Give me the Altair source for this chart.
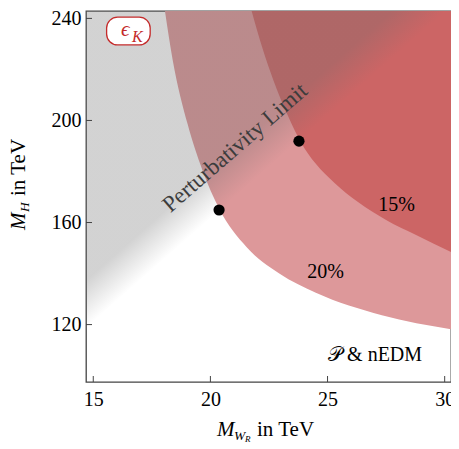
import altair as alt
import pandas as pd

# axis ranges and ticks
x_domain = [14.69, 30.27]
y_domain = [97.5, 242.9]
x_ticks = [15, 20, 25, 30]
y_ticks = [120, 160, 200, 240]

# 20% contour (outer boundary of light region)
outer_x = [18.06, 18.39, 19.03, 19.66, 20.37, 21.55, 22.94, 24.5, 27.32, 30.27]
outer_y = [242.9, 223.7, 198.5, 180.5, 165.5, 150.3, 140.0, 132.5, 123.7, 118.2]
# 15% contour (boundary of dark region)
inner_x = [21.76, 22.2, 22.7, 23.3, 23.86, 24.5, 25.3, 26.3, 27.5, 28.8, 30.27]
inner_y = [242.9, 229.0, 215.5, 202.0, 191.5, 183.0, 175.5, 168.0, 161.0, 155.0, 148.4]
# perturbativity limit line
perturb_x = [14.69, 30.06]
perturb_y = [118.7, 242.9]
# benchmark points
bench_x = [20.37, 23.78]
bench_y = [164.9, 191.9]
# region labels
label_text = ["15%", "20%", "𝒫 & nEDM"]
label_x = [27.95, 24.92, 27.03]
label_y = [166.8, 140.5, 108.0]
pert_label = "Perturbativity Limit"
pert_label_x = [21.05]
pert_label_y = [189.3]
# epsilon_K box
eps_box_x = [15.57, 17.43]
eps_box_y = [240.5, 229.6]

SERIF = "Liberation Serif"
TOP = y_domain[1]

xs = alt.Scale(domain=x_domain, nice=False, zero=False)
ys = alt.Scale(domain=y_domain, nice=False, zero=False)

x_axis = alt.Axis(values=x_ticks, format="d", tickSize=0, labelPadding=7, domain=False,
                  grid=False, title=None, labelFont=SERIF, labelFontSize=20, labelColor="black")
y_axis = alt.Axis(values=y_ticks, format="d", tickSize=0, labelPadding=5, domain=False,
                  grid=False, title=None, labelFont=SERIF, labelFontSize=20, labelColor="black")

outer_df = pd.DataFrame({"x": outer_x, "y": outer_y, "top": TOP})
inner_df = pd.DataFrame({"x": inner_x, "y": inner_y, "top": TOP})
pert_df = pd.DataFrame({"x": perturb_x, "y": perturb_y, "top": TOP})
bench_df = pd.DataFrame({"x": bench_x, "y": bench_y})
label_df = pd.DataFrame({"x": label_x, "y": label_y, "t": label_text})
pert_lab_df = pd.DataFrame({"x": pert_label_x, "y": pert_label_y, "t": [pert_label]})
box_df = pd.DataFrame({"x": [eps_box_x[0]], "x2": [eps_box_x[1]], "y": [eps_box_y[0]], "y2": [eps_box_y[1]]})
xt_df = pd.DataFrame({"v": x_ticks})
yt_df = pd.DataFrame({"v": y_ticks})

light = alt.Chart(outer_df).mark_area(interpolate="monotone", color="#dd989a", clip=True).encode(
    x=alt.X("x:Q", scale=xs, axis=x_axis),
    y=alt.Y("y:Q", scale=ys, axis=y_axis),
    y2="top:Q",
)
dark = alt.Chart(inner_df).mark_area(interpolate="monotone", color="#cc6565", clip=True).encode(
    x=alt.X("x:Q", scale=xs), y=alt.Y("y:Q", scale=ys), y2="top:Q"
)
grad = alt.Gradient(
    gradient="linear",
    stops=[
        alt.GradientStop(color="rgba(108,108,108,0.3)", offset=0),
        alt.GradientStop(color="rgba(108,108,108,0.3)", offset=0.85),
        alt.GradientStop(color="rgba(108,108,108,0)", offset=1),
    ],
    x1=0, y1=0, x2=0.5, y2=0.5,
)
gray = alt.Chart(pert_df).mark_area(color=grad, clip=True).encode(
    x=alt.X("x:Q", scale=xs), y=alt.Y("y:Q", scale=ys), y2="top:Q"
)
labels = alt.Chart(label_df).mark_text(font=SERIF, fontSize=20, color="black").encode(
    x=alt.X("x:Q", scale=xs), y=alt.Y("y:Q", scale=ys), text="t:N"
)
pert_lab = alt.Chart(pert_lab_df).mark_text(font=SERIF, fontSize=23, color="#3c3c3c", angle=319).encode(
    x=alt.X("x:Q", scale=xs), y=alt.Y("y:Q", scale=ys), text="t:N"
)
dots = alt.Chart(bench_df).mark_circle(size=125, color="black", opacity=1).encode(
    x=alt.X("x:Q", scale=xs), y=alt.Y("y:Q", scale=ys)
)
box = alt.Chart(box_df).mark_rect(fill="white", stroke="#c42b2b", strokeWidth=1.3, cornerRadius=11).encode(
    x=alt.X("x:Q", scale=xs), x2="x2:Q", y=alt.Y("y:Q", scale=ys), y2="y2:Q"
)
one = alt.Data(values=[{}])
eps = alt.Chart(one).mark_text(text="ϵ", font=SERIF, fontSize=21, fontStyle="italic", color="#c42b2b",
                               align="left", baseline="alphabetic").encode(x=alt.value(35), y=alt.value(25))
epsK = alt.Chart(one).mark_text(text="K", font=SERIF, fontSize=16, fontStyle="italic", color="#c42b2b",
                                align="left", baseline="alphabetic").encode(x=alt.value(46), y=alt.value(31))

xticks = alt.Chart(xt_df).mark_rule(color="#444", strokeWidth=1).encode(
    x=alt.X("v:Q", scale=xs), y=alt.value(371), y2=alt.value(365)
)
yticks = alt.Chart(yt_df).mark_rule(color="#444", strokeWidth=1).encode(
    y=alt.Y("v:Q", scale=ys), x=alt.value(0), x2=alt.value(6)
)

def t(txt, x, y, size=21, italic=False, angle=0):
    kw = dict(text=txt, font=SERIF, fontSize=size, color="black", align="left", baseline="alphabetic")
    if italic:
        kw["fontStyle"] = "italic"
    if angle:
        kw["angle"] = angle
    return alt.Chart(one).mark_text(**kw).encode(x=alt.value(x), y=alt.value(y))

xt1 = t("M", 131, 425, 21, True)
xt2 = t("W", 148, 429, 13.5, True)
xt3 = t("R", 159, 431, 9, True)
xt4 = t("in TeV", 171, 425, 21)
yt1 = t("M", -61, 219, 21, True, 270)
yt2 = t("H", -57, 201, 13.5, True, 270)
yt3 = t("in TeV", -61, 185, 21, False, 270)

chart = alt.layer(
    light, dark, gray, xticks, yticks, labels, pert_lab, dots, box, eps, epsK,
    xt1, xt2, xt3, xt4, yt1, yt2, yt3,
).properties(
    width=365, height=371,
    padding={"left": 78, "top": 3, "right": 0, "bottom": 62},
    autosize=alt.AutoSizeParams(type="none"),
).configure_view(stroke="#444", strokeWidth=1.3)

chart.save("out.html", embed_options={"renderer": "svg", "actions": False})
